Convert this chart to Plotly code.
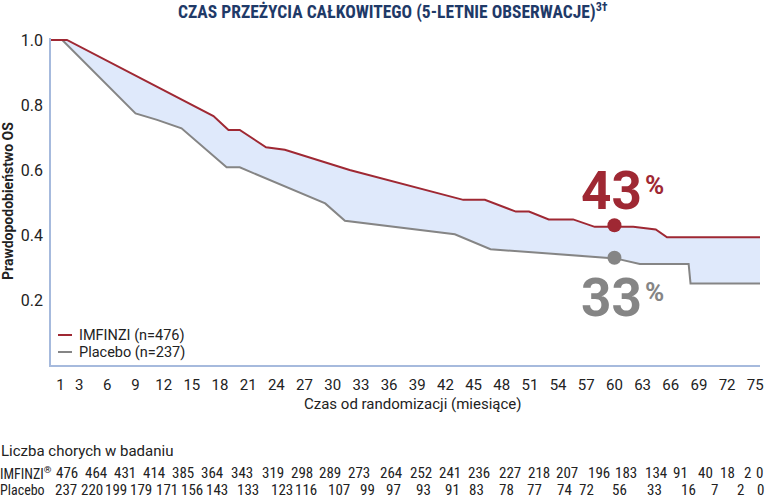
import plotly.graph_objects as go

# ---------------- data ----------------
imfinzi_months = [0, 1.7, 17.3, 18.9, 20.1, 22.9, 24.9, 31.8, 43.9, 46.2, 49.5, 50.9,
                  53.0, 55.6, 57.9, 62.0, 64.4, 65.6, 75.5]
imfinzi_os = [1.0, 1.0, 0.766, 0.723, 0.723, 0.670, 0.662, 0.600, 0.508, 0.508, 0.472, 0.472,
              0.448, 0.448, 0.425, 0.425, 0.417, 0.393, 0.393]

placebo_months = [0, 1.2, 9.0, 11.3, 13.9, 18.7, 20.1, 29.2, 31.3, 43.0, 46.8, 55.8,
                  60.1, 62.7, 67.9, 68.1, 75.5]
placebo_os = [1.0, 1.0, 0.774, 0.754, 0.728, 0.608, 0.608, 0.497, 0.444, 0.402, 0.356, 0.338,
              0.328, 0.311, 0.311, 0.251, 0.251]

highlight_month = 60
highlight_imfinzi = 0.43
highlight_placebo = 0.33

x_tick_vals = [1, 3, 6, 9, 12, 15, 18, 21, 24, 27, 30, 33, 36, 39, 42, 45, 48, 51, 54, 57, 60, 63, 66, 69, 72, 75]
y_tick_vals = [0.2, 0.4, 0.6, 0.8, 1.0]
y_tick_text = ["0.2", "0.4", "0.6", "0.8", "1.0"]

risk_imfinzi = [476, 464, 431, 414, 385, 364, 343, 319, 298, 289, 273, 264, 252, 241, 236,
                227, 218, 207, 196, 183, 134, 91, 40, 18, 2, 0]
risk_placebo = [237, 220, 199, 179, 171, 156, 143, 133, 123, 116, 107, 99, 97, 93, 91,
                83, 78, 77, 74, 72, 56, 33, 16, 7, 2, 0]

title_text = "CZAS PRZEŻYCIA CAŁKOWITEGO (5-LETNIE OBSERWACJE)<sup>3†</sup>"
x_title = "Czas od randomizacji (miesiące)"
y_title = "Prawdopodobieństwo OS"
legend_labels = ["IMFINZI (n=476)", "Placebo (n=237)"]
risk_title = "Liczba chorych w badaniu"
risk_row_labels = ["IMFINZI<sup>®</sup>", "Placebo"]

# ---------------- layout / style ----------------
W, H = 777, 500
ML, MR, MT, MB = 51, 17, 38, 135
PW, PH = W - ML - MR, H - MT - MB

RED = "#9f2833"
GRAY = "#858585"
FILL = "#dfe9fb"
AXIS = "#a6badd"
TXT = "#222222"
NAVY = "#1f3a68"
FONT = "Roboto, Arial, sans-serif"
COND = "'Liberation Sans Narrow', 'Roboto Condensed', Roboto, sans-serif"

# table column centres (pixels) for the number-at-risk rows
risk_cols_imfinzi = [67, 96, 125, 154, 183, 212, 242, 273, 302, 330, 359, 391, 421, 450, 479,
                     510, 539, 567, 599, 626, 656, 680, 705, 727, 747, 759]
risk_cols_placebo = [66, 92, 116, 141, 167, 192, 217, 248, 282, 306, 339, 367, 393, 423, 452,
                     477, 506, 534, 564, 586, 619, 654, 688, 714, 740, 760]


def px(xp):
    return (xp - ML) / PW


def py(yp):
    return (H - MB - yp) / PH


fig = go.Figure()

# fill band between curves
fig.add_trace(go.Scatter(x=placebo_months, y=placebo_os, mode="lines",
                         line=dict(width=0, color=GRAY), hoverinfo="skip", showlegend=False))
fig.add_trace(go.Scatter(x=imfinzi_months, y=imfinzi_os, mode="lines", fill="tonexty",
                         fillcolor=FILL, line=dict(width=0, color=RED), hoverinfo="skip",
                         showlegend=False))
# curves
fig.add_trace(go.Scatter(x=placebo_months, y=placebo_os, mode="lines",
                         line=dict(width=2, color=GRAY), name=legend_labels[1], showlegend=False))
fig.add_trace(go.Scatter(x=imfinzi_months, y=imfinzi_os, mode="lines",
                         line=dict(width=2, color=RED), name=legend_labels[0], showlegend=False))
# highlight dots
fig.add_trace(go.Scatter(x=[highlight_month, highlight_month],
                         y=[highlight_imfinzi, highlight_placebo], mode="markers",
                         marker=dict(size=14, color=[RED, GRAY]), showlegend=False,
                         hoverinfo="skip"))

ann = []
# title
ann.append(dict(text=f"<b>{title_text}</b>", x=px(393), y=py(12), xref="paper", yref="paper",
                showarrow=False, font=dict(family=COND, size=17.5, color=NAVY),
                xanchor="center", yanchor="middle"))
# axis titles
ann.append(dict(text=f"<b>{y_title}</b>", x=px(8), y=py(201), xref="paper", yref="paper",
                showarrow=False, textangle=-90, font=dict(family=FONT, size=14, color=TXT),
                xanchor="center", yanchor="middle"))
ann.append(dict(text=x_title, x=px(302), y=py(404), xref="paper", yref="paper",
                showarrow=False, font=dict(family=FONT, size=15, color=TXT),
                xanchor="left", yanchor="middle"))

# big percentage labels
for val, col, ysh in [(highlight_imfinzi, RED, 34), (highlight_placebo, GRAY, -40)]:
    ann.append(dict(text=f"<b>{round(val * 100)}</b>", x=highlight_month, y=val, xref="x",
                    yref="y", showarrow=False, xanchor="center", yanchor="middle",
                    xshift=-3, yshift=ysh, font=dict(family=FONT, size=53, color=col)))
    ann.append(dict(text="<b>%</b>", x=highlight_month, y=val, xref="x", yref="y",
                    showarrow=False, xanchor="left", yanchor="middle", xshift=29,
                    yshift=ysh + 6, font=dict(family=FONT, size=26, color=col)))

# legend
shapes = []
for i, (lab, col) in enumerate(zip(legend_labels, [RED, GRAY])):
    yy = 335 + 17 * i
    shapes.append(dict(type="line", xref="paper", yref="paper", x0=px(58), x1=px(72),
                       y0=py(yy), y1=py(yy), line=dict(color=col, width=2)))
    ann.append(dict(text=lab, x=px(77), y=py(yy), xref="paper", yref="paper",
                    showarrow=False, xanchor="left", yanchor="middle",
                    font=dict(family=FONT, size=14.5, color=TXT)))

# number at risk table
ann.append(dict(text=risk_title, x=px(-1), y=py(451), xref="paper", yref="paper",
                showarrow=False, xanchor="left", yanchor="middle",
                font=dict(family=FONT, size=15, color=TXT)))
for row, (lab, vals, cols, yy) in enumerate([
        (risk_row_labels[0], risk_imfinzi, risk_cols_imfinzi, 473),
        (risk_row_labels[1], risk_placebo, risk_cols_placebo, 490)]):
    ann.append(dict(text=lab, x=px(-2), y=py(yy), xref="paper", yref="paper",
                    showarrow=False, xanchor="left", yanchor="middle",
                    font=dict(family=COND, size=14, color=TXT)))
    for v, c in zip(vals, cols):
        ann.append(dict(text=str(v), x=px(c), y=py(yy), xref="paper", yref="paper",
                        showarrow=False, xanchor="center", yanchor="middle",
                        font=dict(family=COND, size=15, color=TXT)))

fig.update_layout(
    width=W, height=H,
    margin=dict(l=ML, r=MR, t=MT, b=MB),
    paper_bgcolor="white", plot_bgcolor="white",
    showlegend=False,
    annotations=ann, shapes=shapes,
    xaxis=dict(range=[0, 75.5], tickvals=x_tick_vals, ticktext=[str(v) for v in x_tick_vals],
               showgrid=False, zeroline=False, showline=True, linecolor=AXIS, linewidth=1.5,
               ticks="", ticklabelstandoff=5, tickfont=dict(family=FONT, size=15, color=TXT)),
    yaxis=dict(range=[0, 1.006], tickvals=y_tick_vals, ticktext=y_tick_text,
               showgrid=False, zeroline=False, showline=True, linecolor=AXIS, linewidth=1.5,
               ticks="", ticklabelstandoff=3, tickfont=dict(family=FONT, size=16, color=TXT)),
)

fig.write_html("out.html", config={"displayModeBar": False},
               post_script="document.body.style.margin='0px';document.body.style.padding='0px';")
